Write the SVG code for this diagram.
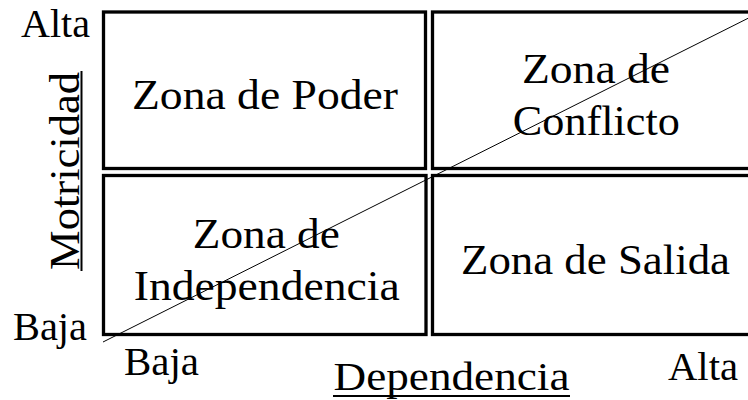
<svg xmlns="http://www.w3.org/2000/svg" width="748" height="400" viewBox="0 0 748 400">
<style>
.box{fill:#fff;stroke:#000;stroke-width:3.3}
.t{font-family:"Liberation Serif","Times New Roman",serif;font-size:43px;fill:#000}
.l{font-family:"Liberation Serif","Times New Roman",serif;font-size:40px;fill:#000}
.u{stroke:#000;stroke-width:2}
</style>
<rect width="748" height="400" fill="#fff"/>
<g id="zona-poder">
<rect class="box" x="103.5" y="12" width="322" height="156.5"/>
<text class="t" x="265" y="108.8" text-anchor="middle" textLength="266" lengthAdjust="spacingAndGlyphs">Zona de Poder</text>
</g>
<g id="zona-conflicto">
<rect class="box" x="432.5" y="12" width="320" height="156.5"/>
<text class="t" x="596" y="82.7" text-anchor="middle" textLength="148" lengthAdjust="spacingAndGlyphs">Zona de</text>
<text class="t" x="596.3" y="135" text-anchor="middle" textLength="167" lengthAdjust="spacingAndGlyphs">Conflicto</text>
</g>
<g id="zona-independencia">
<rect class="box" x="103.5" y="175.5" width="322.5" height="159"/>
<text class="t" x="266.3" y="248.3" text-anchor="middle" textLength="147" lengthAdjust="spacingAndGlyphs">Zona de</text>
<text class="t" x="266.7" y="300" text-anchor="middle" textLength="266" lengthAdjust="spacingAndGlyphs">Independencia</text>
</g>
<g id="zona-salida">
<rect class="box" x="432.5" y="175.5" width="320" height="159"/>
<text class="t" x="595.5" y="274" text-anchor="middle" textLength="269" lengthAdjust="spacingAndGlyphs">Zona de Salida</text>
</g>
<g id="connectors">
<line x1="103" y1="342" x2="750" y2="17.3" stroke="#000" stroke-width="1"/>
</g>
<g id="ejes">
<text class="l" x="21" y="36.7" textLength="69" lengthAdjust="spacingAndGlyphs">Alta</text>
<text class="l" x="13" y="340" textLength="74" lengthAdjust="spacingAndGlyphs">Baja</text>
<text class="l" x="124" y="375" textLength="75" lengthAdjust="spacingAndGlyphs">Baja</text>
<text class="l" x="668" y="380" textLength="70" lengthAdjust="spacingAndGlyphs">Alta</text>
<text class="l" x="333.5" y="389.5" textLength="236" lengthAdjust="spacingAndGlyphs">Dependencia</text>
<line class="u" x1="333" y1="396" x2="570" y2="396"/>
<text class="t" transform="translate(79,171) rotate(-90)" text-anchor="middle" textLength="198" lengthAdjust="spacingAndGlyphs">Motricidad</text>
<line class="u" x1="81.5" y1="71" x2="81.5" y2="271"/>
</g>
</svg>
